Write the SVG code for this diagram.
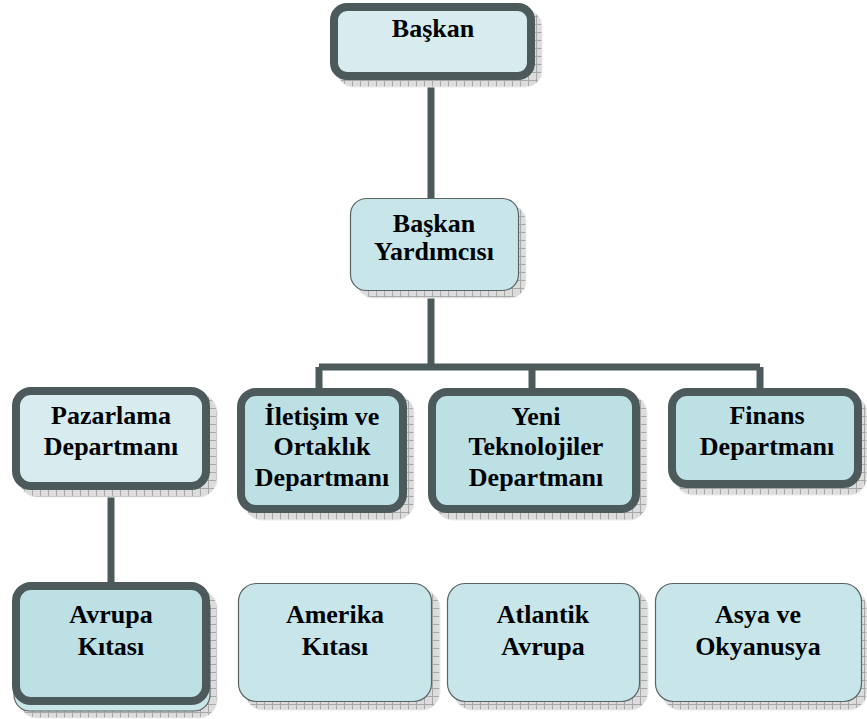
<svg xmlns="http://www.w3.org/2000/svg" width="867" height="719" viewBox="0 0 867 719">
<defs>
<pattern id="grid" width="8" height="8" patternUnits="userSpaceOnUse">
<rect width="8" height="8" fill="#dcdcdc"/>
<path d="M0 0.5H8M0.5 0V8" stroke="#a8a8a8" stroke-width="1"/>
</pattern>
<style>
.sh{fill:url(#grid);stroke:#ececec;stroke-width:1}
.thick{stroke:#4c5a5b;stroke-width:8}
.thin{stroke:#5a6466;stroke-width:1.2}
.lt{fill:#d8ecef}
.md{fill:#bde0e4}
.tn{fill:#c8e6e9}
.conn{stroke:#4c5a5b;stroke-width:7;fill:none}
text{font-family:"Liberation Serif","Times New Roman",serif;font-weight:bold;font-size:26px;fill:#000;text-anchor:middle}
</style>
</defs>

<g id="connectors">
<path class="conn" d="M431 80V198"/>
<path class="conn" d="M431 290V367"/>
<path class="conn" d="M319 367H760"/>
<path class="conn" d="M319 367V390"/>
<path class="conn" d="M532 367V390"/>
<path class="conn" d="M760 367V390"/>
<path class="conn" d="M111 488V584"/>
</g>

<g id="baskan">
<rect class="sh" x="337" y="10" width="205" height="77" rx="16"/>
<rect class="thick lt" x="334" y="7" width="197" height="69" rx="13"/>
<text x="433" y="37">Başkan</text>
</g>

<g id="baskan-yardimcisi">
<rect class="sh" x="357" y="205" width="169" height="93" rx="16"/>
<rect class="thin tn" x="350.5" y="198.5" width="168" height="92" rx="16"/>
<text x="434" y="232">Başkan</text>
<text x="434" y="260">Yardımcısı</text>
</g>

<g id="pazarlama">
<rect class="sh" x="19" y="394" width="198" height="103" rx="18"/>
<rect class="thick lt" x="16" y="391" width="190" height="95" rx="15"/>
<text x="111" y="424">Pazarlama</text>
<text x="111" y="455">Departmanı</text>
</g>

<g id="iletisim">
<rect class="sh" x="244" y="395" width="170" height="125" rx="18"/>
<rect class="thick md" x="241" y="392" width="162" height="117" rx="15"/>
<text x="322" y="425">İletişim ve</text>
<text x="322" y="455">Ortaklık</text>
<text x="322" y="486">Departmanı</text>
</g>

<g id="yeni-teknolojiler">
<rect class="sh" x="435" y="395" width="212" height="125" rx="18"/>
<rect class="thick md" x="432" y="392" width="204" height="117" rx="15"/>
<text x="536" y="425">Yeni</text>
<text x="536" y="455">Teknolojiler</text>
<text x="536" y="486">Departmanı</text>
</g>

<g id="finans">
<rect class="sh" x="675" y="395" width="192" height="100" rx="18"/>
<rect class="thick md" x="672" y="392" width="186" height="92" rx="15"/>
<text x="767" y="424">Finans</text>
<text x="767" y="455">Departmanı</text>
</g>

<g id="avrupa-kitasi">
<rect class="sh" x="19" y="590" width="198" height="128" rx="18"/>
<rect class="thin tn" x="14" y="592" width="196" height="119" rx="16"/>
<rect class="thick md" x="16" y="586" width="190" height="115" rx="15"/>
<text x="111" y="623">Avrupa</text>
<text x="111" y="655">Kıtası</text>
</g>

<g id="amerika-kitasi">
<rect class="sh" x="245" y="590" width="195" height="120" rx="18"/>
<rect class="thin tn" x="238.5" y="583.5" width="193" height="118" rx="18"/>
<text x="335" y="623">Amerika</text>
<text x="335" y="655">Kıtası</text>
</g>

<g id="atlantik-avrupa">
<rect class="sh" x="454" y="590" width="194" height="120" rx="18"/>
<rect class="thin tn" x="447.5" y="583.5" width="192" height="118" rx="18"/>
<text x="543" y="623">Atlantik</text>
<text x="543" y="655">Avrupa</text>
</g>

<g id="asya-okyanusya">
<rect class="sh" x="662" y="590" width="205" height="120" rx="18"/>
<rect class="thin tn" x="655.5" y="583.5" width="206" height="118" rx="18"/>
<text x="758" y="623">Asya ve</text>
<text x="758" y="655">Okyanusya</text>
</g>
</svg>
